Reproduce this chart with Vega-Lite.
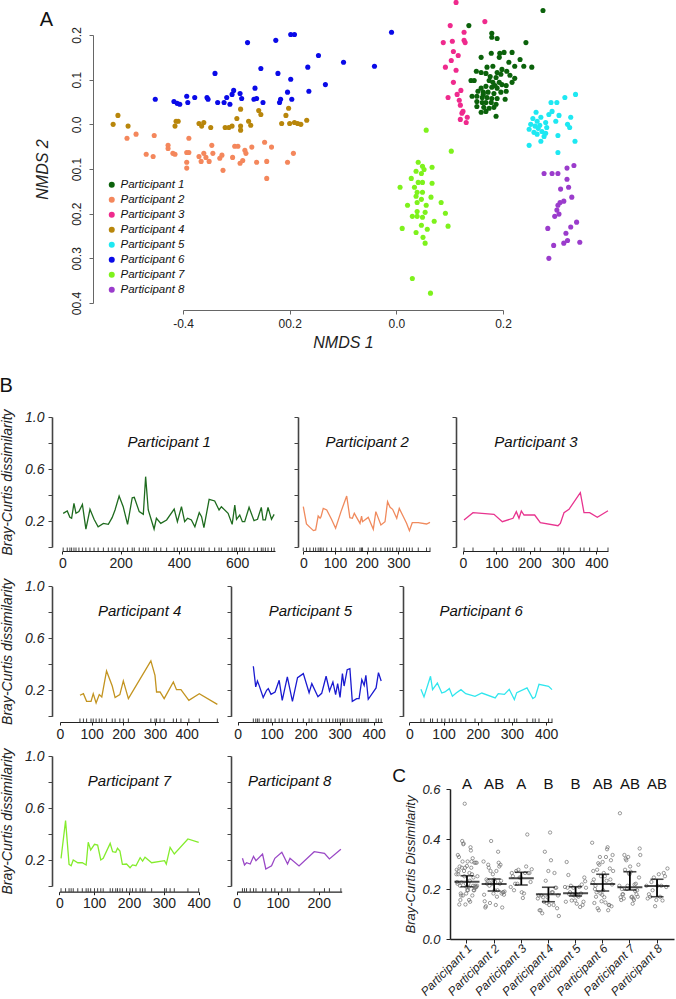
{
"$schema": "https://vega.github.io/schema/vega-lite/v6.json",
"width": 676, "height": 999, "autosize": {"type": "none"}, "padding": 0, "background": "white",
"config": {"font": "Liberation Sans", "view": {"stroke": null}, "axis": {"grid": false, "labelFlush": false, "labelOverlap": false, "labelBound": false, "titleFontWeight": "normal", "domainColor": "#333", "tickColor": "#333", "labelColor": "#222", "titleColor": "#222"}},
"datasets": {
"nmds": [
{"p":"Participant 6","x":-0.452,"y":0.056},{"p":"Participant 6","x":-0.417,"y":0.051},{"p":"Participant 6","x":-0.411,"y":0.047},{"p":"Participant 6","x":-0.406,"y":0.045},{"p":"Participant 6","x":-0.393,"y":0.063},{"p":"Participant 6","x":-0.391,"y":0.049},{"p":"Participant 6","x":-0.378,"y":0.06},{"p":"Participant 6","x":-0.355,"y":0.06},{"p":"Participant 6","x":-0.353,"y":0.056},{"p":"Participant 6","x":-0.34,"y":0.114},{"p":"Participant 6","x":-0.335,"y":0.049},{"p":"Participant 6","x":-0.323,"y":0.049},{"p":"Participant 6","x":-0.318,"y":0.06},{"p":"Participant 6","x":-0.308,"y":0.067},{"p":"Participant 6","x":-0.305,"y":0.076},{"p":"Participant 6","x":-0.312,"y":0.045},{"p":"Participant 6","x":-0.293,"y":0.069},{"p":"Participant 6","x":-0.29,"y":0.058},{"p":"Participant 6","x":-0.279,"y":0.183},{"p":"Participant 6","x":-0.267,"y":0.056},{"p":"Participant 6","x":-0.265,"y":0.081},{"p":"Participant 6","x":-0.262,"y":0.058},{"p":"Participant 6","x":-0.254,"y":0.125},{"p":"Participant 6","x":-0.25,"y":0.049},{"p":"Participant 6","x":-0.226,"y":0.188},{"p":"Participant 6","x":-0.222,"y":0.114},{"p":"Participant 6","x":-0.219,"y":0.049},{"p":"Participant 6","x":-0.217,"y":0.056},{"p":"Participant 6","x":-0.204,"y":0.072},{"p":"Participant 6","x":-0.198,"y":0.201},{"p":"Participant 6","x":-0.198,"y":0.101},{"p":"Participant 6","x":-0.191,"y":0.201},{"p":"Participant 6","x":-0.196,"y":0.056},{"p":"Participant 6","x":-0.166,"y":0.128},{"p":"Participant 6","x":-0.164,"y":0.074},{"p":"Participant 6","x":-0.146,"y":0.154},{"p":"Participant 6","x":-0.133,"y":0.089},{"p":"Participant 6","x":-0.009,"y":0.206},{"p":"Participant 6","x":-0.099,"y":0.139},{"p":"Participant 6","x":-0.041,"y":0.13},
{"p":"Participant 4","x":-0.531,"y":0.0},{"p":"Participant 4","x":-0.522,"y":0.02},{"p":"Participant 4","x":-0.503,"y":-0.004},{"p":"Participant 4","x":-0.413,"y":0.007},{"p":"Participant 4","x":-0.409,"y":0.007},{"p":"Participant 4","x":-0.415,"y":-0.004},{"p":"Participant 4","x":-0.37,"y":0.002},{"p":"Participant 4","x":-0.361,"y":0.004},{"p":"Participant 4","x":-0.365,"y":-0.004},{"p":"Participant 4","x":-0.348,"y":-0.007},{"p":"Participant 4","x":-0.321,"y":-0.007},{"p":"Participant 4","x":-0.314,"y":-0.007},{"p":"Participant 4","x":-0.308,"y":-0.004},{"p":"Participant 4","x":-0.299,"y":0.013},{"p":"Participant 4","x":-0.292,"y":0.034},{"p":"Participant 4","x":-0.292,"y":-0.004},{"p":"Participant 4","x":-0.277,"y":0.007},{"p":"Participant 4","x":-0.273,"y":-0.002},{"p":"Participant 4","x":-0.258,"y":0.031},{"p":"Participant 4","x":-0.254,"y":0.022},{"p":"Participant 4","x":-0.215,"y":0.002},{"p":"Participant 4","x":-0.207,"y":0.02},{"p":"Participant 4","x":-0.202,"y":0.036},{"p":"Participant 4","x":-0.2,"y":0.002},{"p":"Participant 4","x":-0.191,"y":0.004},{"p":"Participant 4","x":-0.185,"y":0.002},{"p":"Participant 4","x":-0.179,"y":0.0},{"p":"Participant 4","x":-0.168,"y":0.009},{"p":"Participant 4","x":-0.292,"y":-0.013},
{"p":"Participant 2","x":-0.505,"y":-0.031},{"p":"Participant 2","x":-0.488,"y":-0.022},{"p":"Participant 2","x":-0.454,"y":-0.025},{"p":"Participant 2","x":-0.469,"y":-0.067},{"p":"Participant 2","x":-0.456,"y":-0.072},{"p":"Participant 2","x":-0.428,"y":-0.047},{"p":"Participant 2","x":-0.428,"y":-0.054},{"p":"Participant 2","x":-0.419,"y":-0.065},{"p":"Participant 2","x":-0.415,"y":-0.067},{"p":"Participant 2","x":-0.393,"y":-0.063},{"p":"Participant 2","x":-0.389,"y":-0.063},{"p":"Participant 2","x":-0.389,"y":-0.031},{"p":"Participant 2","x":-0.393,"y":-0.085},{"p":"Participant 2","x":-0.393,"y":-0.098},{"p":"Participant 2","x":-0.37,"y":-0.072},{"p":"Participant 2","x":-0.366,"y":-0.083},{"p":"Participant 2","x":-0.361,"y":-0.065},{"p":"Participant 2","x":-0.357,"y":-0.074},{"p":"Participant 2","x":-0.351,"y":-0.083},{"p":"Participant 2","x":-0.346,"y":-0.047},{"p":"Participant 2","x":-0.344,"y":-0.065},{"p":"Participant 2","x":-0.331,"y":-0.076},{"p":"Participant 2","x":-0.327,"y":-0.069},{"p":"Participant 2","x":-0.325,"y":-0.103},{"p":"Participant 2","x":-0.307,"y":-0.074},{"p":"Participant 2","x":-0.303,"y":-0.049},{"p":"Participant 2","x":-0.297,"y":-0.049},{"p":"Participant 2","x":-0.293,"y":-0.087},{"p":"Participant 2","x":-0.288,"y":-0.081},{"p":"Participant 2","x":-0.284,"y":-0.058},{"p":"Participant 2","x":-0.282,"y":-0.065},{"p":"Participant 2","x":-0.271,"y":-0.051},{"p":"Participant 2","x":-0.262,"y":-0.085},{"p":"Participant 2","x":-0.247,"y":-0.04},{"p":"Participant 2","x":-0.234,"y":-0.051},{"p":"Participant 2","x":-0.243,"y":-0.083},{"p":"Participant 2","x":-0.243,"y":-0.121},{"p":"Participant 2","x":-0.204,"y":-0.085},{"p":"Participant 2","x":-0.193,"y":-0.065},
{"p":"Participant 3","x":0.112,"y":0.273},{"p":"Participant 3","x":0.166,"y":0.23},{"p":"Participant 3","x":0.101,"y":0.221},{"p":"Participant 3","x":0.127,"y":0.206},{"p":"Participant 3","x":0.088,"y":0.183},{"p":"Participant 3","x":0.105,"y":0.186},{"p":"Participant 3","x":0.127,"y":0.188},{"p":"Participant 3","x":0.129,"y":0.183},{"p":"Participant 3","x":0.107,"y":0.163},{"p":"Participant 3","x":0.116,"y":0.154},{"p":"Participant 3","x":0.103,"y":0.143},{"p":"Participant 3","x":0.092,"y":0.128},{"p":"Participant 3","x":0.112,"y":0.121},{"p":"Participant 3","x":0.107,"y":0.094},{"p":"Participant 3","x":0.121,"y":0.076},{"p":"Participant 3","x":0.114,"y":0.067},{"p":"Participant 3","x":0.097,"y":0.06},{"p":"Participant 3","x":0.118,"y":0.054},{"p":"Participant 3","x":0.12,"y":0.043},{"p":"Participant 3","x":0.125,"y":0.029},{"p":"Participant 3","x":0.123,"y":0.025},{"p":"Participant 3","x":0.133,"y":0.016},{"p":"Participant 3","x":0.12,"y":0.011},{"p":"Participant 3","x":0.131,"y":0.004},
{"p":"Participant 1","x":0.275,"y":0.255},{"p":"Participant 1","x":0.136,"y":0.221},{"p":"Participant 1","x":0.179,"y":0.204},{"p":"Participant 1","x":0.189,"y":0.192},{"p":"Participant 1","x":0.179,"y":0.195},{"p":"Participant 1","x":0.243,"y":0.183},{"p":"Participant 1","x":0.159,"y":0.15},{"p":"Participant 1","x":0.178,"y":0.159},{"p":"Participant 1","x":0.194,"y":0.159},{"p":"Participant 1","x":0.202,"y":0.161},{"p":"Participant 1","x":0.217,"y":0.161},{"p":"Participant 1","x":0.193,"y":0.15},{"p":"Participant 1","x":0.232,"y":0.145},{"p":"Participant 1","x":0.211,"y":0.139},{"p":"Participant 1","x":0.239,"y":0.13},{"p":"Participant 1","x":0.254,"y":0.128},{"p":"Participant 1","x":0.222,"y":0.13},{"p":"Participant 1","x":0.17,"y":0.128},{"p":"Participant 1","x":0.181,"y":0.13},{"p":"Participant 1","x":0.198,"y":0.123},{"p":"Participant 1","x":0.15,"y":0.119},{"p":"Participant 1","x":0.159,"y":0.116},{"p":"Participant 1","x":0.168,"y":0.114},{"p":"Participant 1","x":0.189,"y":0.116},{"p":"Participant 1","x":0.196,"y":0.112},{"p":"Participant 1","x":0.207,"y":0.119},{"p":"Participant 1","x":0.213,"y":0.11},{"p":"Participant 1","x":0.187,"y":0.105},{"p":"Participant 1","x":0.222,"y":0.103},{"p":"Participant 1","x":0.14,"y":0.098},{"p":"Participant 1","x":0.146,"y":0.098},{"p":"Participant 1","x":0.174,"y":0.098},{"p":"Participant 1","x":0.181,"y":0.094},{"p":"Participant 1","x":0.193,"y":0.094},{"p":"Participant 1","x":0.198,"y":0.089},{"p":"Participant 1","x":0.217,"y":0.094},{"p":"Participant 1","x":0.159,"y":0.081},{"p":"Participant 1","x":0.168,"y":0.085},{"p":"Participant 1","x":0.179,"y":0.083},{"p":"Participant 1","x":0.189,"y":0.081},{"p":"Participant 1","x":0.153,"y":0.074},{"p":"Participant 1","x":0.163,"y":0.072},{"p":"Participant 1","x":0.172,"y":0.072},{"p":"Participant 1","x":0.183,"y":0.069},{"p":"Participant 1","x":0.196,"y":0.072},{"p":"Participant 1","x":0.206,"y":0.074},{"p":"Participant 1","x":0.142,"y":0.063},{"p":"Participant 1","x":0.151,"y":0.063},{"p":"Participant 1","x":0.161,"y":0.06},{"p":"Participant 1","x":0.17,"y":0.06},{"p":"Participant 1","x":0.179,"y":0.058},{"p":"Participant 1","x":0.189,"y":0.058},{"p":"Participant 1","x":0.204,"y":0.056},{"p":"Participant 1","x":0.151,"y":0.051},{"p":"Participant 1","x":0.161,"y":0.049},{"p":"Participant 1","x":0.168,"y":0.049},{"p":"Participant 1","x":0.178,"y":0.049},{"p":"Participant 1","x":0.187,"y":0.045},{"p":"Participant 1","x":0.151,"y":0.04},{"p":"Participant 1","x":0.164,"y":0.038},{"p":"Participant 1","x":0.174,"y":0.036},{"p":"Participant 1","x":0.183,"y":0.038},{"p":"Participant 1","x":0.159,"y":0.027},{"p":"Participant 1","x":0.168,"y":0.029},{"p":"Participant 1","x":0.187,"y":0.018},{"p":"Participant 1","x":0.163,"y":0.067},{"p":"Participant 1","x":0.185,"y":0.087},{"p":"Participant 1","x":0.176,"y":0.107},{"p":"Participant 1","x":0.206,"y":0.087},
{"p":"Participant 5","x":0.336,"y":0.067},{"p":"Participant 5","x":0.316,"y":0.06},{"p":"Participant 5","x":0.29,"y":0.049},{"p":"Participant 5","x":0.301,"y":0.049},{"p":"Participant 5","x":0.262,"y":0.027},{"p":"Participant 5","x":0.286,"y":0.022},{"p":"Participant 5","x":0.305,"y":0.02},{"p":"Participant 5","x":0.292,"y":0.029},{"p":"Participant 5","x":0.327,"y":0.016},{"p":"Participant 5","x":0.271,"y":0.016},{"p":"Participant 5","x":0.256,"y":0.013},{"p":"Participant 5","x":0.264,"y":0.007},{"p":"Participant 5","x":0.28,"y":0.004},{"p":"Participant 5","x":0.299,"y":0.007},{"p":"Participant 5","x":0.252,"y":0.0},{"p":"Participant 5","x":0.26,"y":-0.004},{"p":"Participant 5","x":0.269,"y":-0.002},{"p":"Participant 5","x":0.321,"y":0.0},{"p":"Participant 5","x":0.325,"y":-0.007},{"p":"Participant 5","x":0.249,"y":-0.011},{"p":"Participant 5","x":0.258,"y":-0.018},{"p":"Participant 5","x":0.273,"y":-0.016},{"p":"Participant 5","x":0.28,"y":-0.02},{"p":"Participant 5","x":0.264,"y":-0.022},{"p":"Participant 5","x":0.303,"y":-0.025},{"p":"Participant 5","x":0.277,"y":-0.027},{"p":"Participant 5","x":0.271,"y":-0.038},{"p":"Participant 5","x":0.335,"y":-0.038},{"p":"Participant 5","x":0.249,"y":-0.047},{"p":"Participant 5","x":0.303,"y":-0.063},{"p":"Participant 5","x":0.266,"y":-0.009},{"p":"Participant 5","x":0.282,"y":-0.007},
{"p":"Participant 7","x":0.056,"y":-0.013},{"p":"Participant 7","x":0.103,"y":-0.06},{"p":"Participant 7","x":0.041,"y":-0.085},{"p":"Participant 7","x":0.049,"y":-0.094},{"p":"Participant 7","x":0.067,"y":-0.096},{"p":"Participant 7","x":0.037,"y":-0.105},{"p":"Participant 7","x":0.052,"y":-0.101},{"p":"Participant 7","x":0.047,"y":-0.11},{"p":"Participant 7","x":0.028,"y":-0.121},{"p":"Participant 7","x":0.041,"y":-0.13},{"p":"Participant 7","x":0.049,"y":-0.13},{"p":"Participant 7","x":0.067,"y":-0.132},{"p":"Participant 7","x":0.007,"y":-0.141},{"p":"Participant 7","x":0.034,"y":-0.141},{"p":"Participant 7","x":0.039,"y":-0.152},{"p":"Participant 7","x":0.049,"y":-0.152},{"p":"Participant 7","x":0.037,"y":-0.161},{"p":"Participant 7","x":0.065,"y":-0.163},{"p":"Participant 7","x":0.047,"y":-0.168},{"p":"Participant 7","x":0.039,"y":-0.175},{"p":"Participant 7","x":0.084,"y":-0.175},{"p":"Participant 7","x":0.021,"y":-0.181},{"p":"Participant 7","x":0.056,"y":-0.181},{"p":"Participant 7","x":0.039,"y":-0.195},{"p":"Participant 7","x":0.054,"y":-0.197},{"p":"Participant 7","x":0.092,"y":-0.199},{"p":"Participant 7","x":0.03,"y":-0.206},{"p":"Participant 7","x":0.039,"y":-0.206},{"p":"Participant 7","x":0.049,"y":-0.208},{"p":"Participant 7","x":0.071,"y":-0.217},{"p":"Participant 7","x":0.047,"y":-0.226},{"p":"Participant 7","x":0.097,"y":-0.228},{"p":"Participant 7","x":0.011,"y":-0.233},{"p":"Participant 7","x":0.058,"y":-0.235},{"p":"Participant 7","x":0.037,"y":-0.242},{"p":"Participant 7","x":0.05,"y":-0.253},{"p":"Participant 7","x":0.054,"y":-0.266},{"p":"Participant 7","x":0.03,"y":-0.345},{"p":"Participant 7","x":0.064,"y":-0.378},
{"p":"Participant 8","x":0.333,"y":-0.092},{"p":"Participant 8","x":0.32,"y":-0.098},{"p":"Participant 8","x":0.277,"y":-0.11},{"p":"Participant 8","x":0.292,"y":-0.11},{"p":"Participant 8","x":0.303,"y":-0.11},{"p":"Participant 8","x":0.32,"y":-0.123},{"p":"Participant 8","x":0.323,"y":-0.141},{"p":"Participant 8","x":0.308,"y":-0.145},{"p":"Participant 8","x":0.329,"y":-0.163},{"p":"Participant 8","x":0.314,"y":-0.172},{"p":"Participant 8","x":0.307,"y":-0.175},{"p":"Participant 8","x":0.303,"y":-0.181},{"p":"Participant 8","x":0.301,"y":-0.192},{"p":"Participant 8","x":0.305,"y":-0.201},{"p":"Participant 8","x":0.297,"y":-0.206},{"p":"Participant 8","x":0.338,"y":-0.219},{"p":"Participant 8","x":0.284,"y":-0.233},{"p":"Participant 8","x":0.327,"y":-0.23},{"p":"Participant 8","x":0.318,"y":-0.244},{"p":"Participant 8","x":0.321,"y":-0.26},{"p":"Participant 8","x":0.314,"y":-0.266},{"p":"Participant 8","x":0.344,"y":-0.264},{"p":"Participant 8","x":0.295,"y":-0.271},{"p":"Participant 8","x":0.286,"y":-0.3}
],
"bc": [
{"p":"Participant 1","d":3,"v":0.259},{"p":"Participant 1","d":17,"v":0.277},{"p":"Participant 1","d":26,"v":0.228},{"p":"Participant 1","d":32,"v":0.221},{"p":"Participant 1","d":40,"v":0.336},{"p":"Participant 1","d":47,"v":0.259},{"p":"Participant 1","d":57,"v":0.272},{"p":"Participant 1","d":69,"v":0.328},{"p":"Participant 1","d":81,"v":0.138},{"p":"Participant 1","d":95,"v":0.29},{"p":"Participant 1","d":109,"v":0.213},{"p":"Participant 1","d":123,"v":0.156},{"p":"Participant 1","d":141,"v":0.182},{"p":"Participant 1","d":158,"v":0.174},{"p":"Participant 1","d":171,"v":0.226},{"p":"Participant 1","d":181,"v":0.285},{"p":"Participant 1","d":195,"v":0.392},{"p":"Participant 1","d":209,"v":0.31},{"p":"Participant 1","d":224,"v":0.174},{"p":"Participant 1","d":240,"v":0.379},{"p":"Participant 1","d":247,"v":0.382},{"p":"Participant 1","d":264,"v":0.272},{"p":"Participant 1","d":278,"v":0.251},{"p":"Participant 1","d":286,"v":0.541},{"p":"Participant 1","d":295,"v":0.285},{"p":"Participant 1","d":315,"v":0.138},{"p":"Participant 1","d":323,"v":0.221},{"p":"Participant 1","d":338,"v":0.182},{"p":"Participant 1","d":358,"v":0.208},{"p":"Participant 1","d":384,"v":0.292},{"p":"Participant 1","d":395,"v":0.195},{"p":"Participant 1","d":409,"v":0.31},{"p":"Participant 1","d":420,"v":0.195},{"p":"Participant 1","d":430,"v":0.221},{"p":"Participant 1","d":443,"v":0.208},{"p":"Participant 1","d":455,"v":0.156},{"p":"Participant 1","d":470,"v":0.264},{"p":"Participant 1","d":478,"v":0.233},{"p":"Participant 1","d":486,"v":0.149},{"p":"Participant 1","d":504,"v":0.367},{"p":"Participant 1","d":523,"v":0.354},{"p":"Participant 1","d":538,"v":0.285},{"p":"Participant 1","d":546,"v":0.31},{"p":"Participant 1","d":569,"v":0.259},{"p":"Participant 1","d":583,"v":0.174},{"p":"Participant 1","d":592,"v":0.323},{"p":"Participant 1","d":598,"v":0.213},{"p":"Participant 1","d":609,"v":0.246},{"p":"Participant 1","d":618,"v":0.195},{"p":"Participant 1","d":626,"v":0.195},{"p":"Participant 1","d":641,"v":0.305},{"p":"Participant 1","d":658,"v":0.203},{"p":"Participant 1","d":670,"v":0.213},{"p":"Participant 1","d":683,"v":0.305},{"p":"Participant 1","d":689,"v":0.208},{"p":"Participant 1","d":697,"v":0.208},{"p":"Participant 1","d":706,"v":0.305},{"p":"Participant 1","d":718,"v":0.213},{"p":"Participant 1","d":727,"v":0.251},
{"p":"Participant 2","d":0,"v":0.31},{"p":"Participant 2","d":10,"v":0.177},{"p":"Participant 2","d":21,"v":0.151},{"p":"Participant 2","d":32,"v":0.126},{"p":"Participant 2","d":39,"v":0.131},{"p":"Participant 2","d":47,"v":0.238},{"p":"Participant 2","d":53,"v":0.221},{"p":"Participant 2","d":56,"v":0.233},{"p":"Participant 2","d":63,"v":0.297},{"p":"Participant 2","d":74,"v":0.285},{"p":"Participant 2","d":89,"v":0.213},{"p":"Participant 2","d":102,"v":0.144},{"p":"Participant 2","d":119,"v":0.272},{"p":"Participant 2","d":137,"v":0.392},{"p":"Participant 2","d":147,"v":0.226},{"p":"Participant 2","d":155,"v":0.221},{"p":"Participant 2","d":161,"v":0.259},{"p":"Participant 2","d":179,"v":0.182},{"p":"Participant 2","d":184,"v":0.238},{"p":"Participant 2","d":187,"v":0.195},{"p":"Participant 2","d":205,"v":0.228},{"p":"Participant 2","d":221,"v":0.136},{"p":"Participant 2","d":229,"v":0.272},{"p":"Participant 2","d":245,"v":0.169},{"p":"Participant 2","d":258,"v":0.195},{"p":"Participant 2","d":266,"v":0.349},{"p":"Participant 2","d":274,"v":0.305},{"p":"Participant 2","d":282,"v":0.29},{"p":"Participant 2","d":295,"v":0.221},{"p":"Participant 2","d":303,"v":0.297},{"p":"Participant 2","d":316,"v":0.233},{"p":"Participant 2","d":326,"v":0.182},{"p":"Participant 2","d":335,"v":0.126},{"p":"Participant 2","d":344,"v":0.187},{"p":"Participant 2","d":363,"v":0.187},{"p":"Participant 2","d":389,"v":0.177},{"p":"Participant 2","d":400,"v":0.19},
{"p":"Participant 3","d":3,"v":0.208},{"p":"Participant 3","d":30,"v":0.264},{"p":"Participant 3","d":93,"v":0.251},{"p":"Participant 3","d":118,"v":0.195},{"p":"Participant 3","d":150,"v":0.221},{"p":"Participant 3","d":160,"v":0.272},{"p":"Participant 3","d":168,"v":0.221},{"p":"Participant 3","d":175,"v":0.277},{"p":"Participant 3","d":183,"v":0.246},{"p":"Participant 3","d":215,"v":0.246},{"p":"Participant 3","d":232,"v":0.187},{"p":"Participant 3","d":285,"v":0.164},{"p":"Participant 3","d":292,"v":0.182},{"p":"Participant 3","d":303,"v":0.264},{"p":"Participant 3","d":318,"v":0.29},{"p":"Participant 3","d":352,"v":0.418},{"p":"Participant 3","d":363,"v":0.264},{"p":"Participant 3","d":380,"v":0.264},{"p":"Participant 3","d":403,"v":0.228},{"p":"Participant 3","d":435,"v":0.279},
{"p":"Participant 4","d":63,"v":0.162},{"p":"Participant 4","d":74,"v":0.174},{"p":"Participant 4","d":84,"v":0.115},{"p":"Participant 4","d":98,"v":0.115},{"p":"Participant 4","d":105,"v":0.174},{"p":"Participant 4","d":114,"v":0.103},{"p":"Participant 4","d":124,"v":0.167},{"p":"Participant 4","d":132,"v":0.149},{"p":"Participant 4","d":147,"v":0.349},{"p":"Participant 4","d":165,"v":0.233},{"p":"Participant 4","d":174,"v":0.144},{"p":"Participant 4","d":189,"v":0.167},{"p":"Participant 4","d":200,"v":0.272},{"p":"Participant 4","d":216,"v":0.136},{"p":"Participant 4","d":287,"v":0.426},{"p":"Participant 4","d":300,"v":0.315},{"p":"Participant 4","d":305,"v":0.187},{"p":"Participant 4","d":316,"v":0.187},{"p":"Participant 4","d":329,"v":0.136},{"p":"Participant 4","d":358,"v":0.264},{"p":"Participant 4","d":368,"v":0.205},{"p":"Participant 4","d":382,"v":0.205},{"p":"Participant 4","d":407,"v":0.123},{"p":"Participant 4","d":440,"v":0.174},{"p":"Participant 4","d":497,"v":0.092},
{"p":"Participant 6","d":46,"v":0.385},{"p":"Participant 6","d":53,"v":0.226},{"p":"Participant 6","d":58,"v":0.272},{"p":"Participant 6","d":63,"v":0.238},{"p":"Participant 6","d":75,"v":0.144},{"p":"Participant 6","d":85,"v":0.2},{"p":"Participant 6","d":90,"v":0.213},{"p":"Participant 6","d":98,"v":0.169},{"p":"Participant 6","d":110,"v":0.187},{"p":"Participant 6","d":122,"v":0.277},{"p":"Participant 6","d":131,"v":0.123},{"p":"Participant 6","d":146,"v":0.303},{"p":"Participant 6","d":161,"v":0.115},{"p":"Participant 6","d":176,"v":0.297},{"p":"Participant 6","d":193,"v":0.328},{"p":"Participant 6","d":210,"v":0.182},{"p":"Participant 6","d":218,"v":0.251},{"p":"Participant 6","d":236,"v":0.151},{"p":"Participant 6","d":247,"v":0.177},{"p":"Participant 6","d":260,"v":0.308},{"p":"Participant 6","d":270,"v":0.195},{"p":"Participant 6","d":280,"v":0.264},{"p":"Participant 6","d":288,"v":0.167},{"p":"Participant 6","d":294,"v":0.251},{"p":"Participant 6","d":301,"v":0.146},{"p":"Participant 6","d":308,"v":0.328},{"p":"Participant 6","d":313,"v":0.233},{"p":"Participant 6","d":322,"v":0.359},{"p":"Participant 6","d":330,"v":0.367},{"p":"Participant 6","d":337,"v":0.115},{"p":"Participant 6","d":350,"v":0.136},{"p":"Participant 6","d":357,"v":0.136},{"p":"Participant 6","d":365,"v":0.282},{"p":"Participant 6","d":372,"v":0.238},{"p":"Participant 6","d":377,"v":0.315},{"p":"Participant 6","d":384,"v":0.131},{"p":"Participant 6","d":407,"v":0.218},{"p":"Participant 6","d":414,"v":0.336},{"p":"Participant 6","d":422,"v":0.272},
{"p":"Participant 5","d":34,"v":0.208},{"p":"Participant 5","d":43,"v":0.149},{"p":"Participant 5","d":62,"v":0.308},{"p":"Participant 5","d":68,"v":0.205},{"p":"Participant 5","d":82,"v":0.256},{"p":"Participant 5","d":95,"v":0.179},{"p":"Participant 5","d":104,"v":0.187},{"p":"Participant 5","d":117,"v":0.213},{"p":"Participant 5","d":126,"v":0.154},{"p":"Participant 5","d":137,"v":0.179},{"p":"Participant 5","d":151,"v":0.205},{"p":"Participant 5","d":165,"v":0.174},{"p":"Participant 5","d":192,"v":0.154},{"p":"Participant 5","d":212,"v":0.179},{"p":"Participant 5","d":251,"v":0.141},{"p":"Participant 5","d":260,"v":0.174},{"p":"Participant 5","d":278,"v":0.169},{"p":"Participant 5","d":292,"v":0.208},{"p":"Participant 5","d":307,"v":0.128},{"p":"Participant 5","d":314,"v":0.182},{"p":"Participant 5","d":344,"v":0.218},{"p":"Participant 5","d":361,"v":0.136},{"p":"Participant 5","d":368,"v":0.149},{"p":"Participant 5","d":379,"v":0.246},{"p":"Participant 5","d":407,"v":0.231},{"p":"Participant 5","d":417,"v":0.205},
{"p":"Participant 7","d":5,"v":0.213},{"p":"Participant 7","d":18,"v":0.503},{"p":"Participant 7","d":28,"v":0.167},{"p":"Participant 7","d":34,"v":0.156},{"p":"Participant 7","d":40,"v":0.2},{"p":"Participant 7","d":53,"v":0.179},{"p":"Participant 7","d":66,"v":0.179},{"p":"Participant 7","d":77,"v":0.162},{"p":"Participant 7","d":83,"v":0.336},{"p":"Participant 7","d":90,"v":0.277},{"p":"Participant 7","d":101,"v":0.321},{"p":"Participant 7","d":110,"v":0.315},{"p":"Participant 7","d":119,"v":0.2},{"p":"Participant 7","d":126,"v":0.213},{"p":"Participant 7","d":146,"v":0.328},{"p":"Participant 7","d":153,"v":0.264},{"p":"Participant 7","d":162,"v":0.259},{"p":"Participant 7","d":167,"v":0.29},{"p":"Participant 7","d":174,"v":0.269},{"p":"Participant 7","d":181,"v":0.167},{"p":"Participant 7","d":193,"v":0.169},{"p":"Participant 7","d":203,"v":0.141},{"p":"Participant 7","d":210,"v":0.162},{"p":"Participant 7","d":220,"v":0.156},{"p":"Participant 7","d":232,"v":0.218},{"p":"Participant 7","d":239,"v":0.192},{"p":"Participant 7","d":246,"v":0.221},{"p":"Participant 7","d":265,"v":0.179},{"p":"Participant 7","d":302,"v":0.195},{"p":"Participant 7","d":307,"v":0.169},{"p":"Participant 7","d":318,"v":0.297},{"p":"Participant 7","d":330,"v":0.246},{"p":"Participant 7","d":369,"v":0.362},{"p":"Participant 7","d":400,"v":0.336},
{"p":"Participant 8","d":14,"v":0.213},{"p":"Participant 8","d":19,"v":0.162},{"p":"Participant 8","d":24,"v":0.179},{"p":"Participant 8","d":33,"v":0.169},{"p":"Participant 8","d":41,"v":0.228},{"p":"Participant 8","d":47,"v":0.195},{"p":"Participant 8","d":63,"v":0.246},{"p":"Participant 8","d":71,"v":0.131},{"p":"Participant 8","d":85,"v":0.156},{"p":"Participant 8","d":93,"v":0.213},{"p":"Participant 8","d":110,"v":0.259},{"p":"Participant 8","d":124,"v":0.169},{"p":"Participant 8","d":130,"v":0.213},{"p":"Participant 8","d":152,"v":0.154},{"p":"Participant 8","d":189,"v":0.264},{"p":"Participant 8","d":214,"v":0.251},{"p":"Participant 8","d":226,"v":0.208},{"p":"Participant 8","d":254,"v":0.282}
],
"stats": [
{"p":"Participant 1","m":0.229,"lo":0.209,"hi":0.253,"g":"A"},
{"p":"Participant 2","m":0.22,"lo":0.192,"hi":0.24,"g":"AB"},
{"p":"Participant 3","m":0.243,"lo":0.216,"hi":0.267,"g":"A"},
{"p":"Participant 4","m":0.179,"lo":0.149,"hi":0.207,"g":"B"},
{"p":"Participant 5","m":0.183,"lo":0.172,"hi":0.209,"g":"B"},
{"p":"Participant 6","m":0.22,"lo":0.192,"hi":0.259,"g":"AB"},
{"p":"Participant 7","m":0.207,"lo":0.196,"hi":0.269,"g":"AB"},
{"p":"Participant 8","m":0.212,"lo":0.169,"hi":0.239,"g":"AB"}
],
"labels": [{"t": "A"}, {"t": "B"}, {"t": "C"}]
},
"resolve": {"scale": {"x": "independent", "y": "independent"}},
"layer": [
 {"data": {"name": "nmds"}, "mark": {"type": "circle", "size": 26, "opacity": 1},
  "encoding": {
   "x": {"field": "x", "type": "quantitative", "scale": {"domain": [-0.4, 0.2], "range": [183, 503], "nice": false, "zero": false},
         "axis": {"orient": "bottom", "offset": -689, "values": [-0.4, -0.2, 0, 0.2], "labelExpr": "datum.value < -0.3 ? '-0.4' : datum.value < -0.001 ? '00.2' : format(datum.value, '.1f')", "labelFontSize": 12, "labelPadding": 4, "tickSize": 4, "domainColor": "#666", "tickColor": "#666", "title": "NMDS 1", "titleFontSize": 16, "titleFontStyle": "italic", "titlePadding": 5}},
   "y": {"field": "y", "type": "quantitative", "scale": {"domain": [-0.4, 0.2], "range": [303, 35], "nice": false, "zero": false},
         "axis": {"orient": "left", "offset": -93, "values": [-0.4, -0.3, -0.2, -0.1, 0, 0.1, 0.2], "labelExpr": "datum.value < -0.001 ? '0' + format(-datum.value, '.1f') : format(datum.value, '.1f')", "labelAngle": -90, "labelAlign": "center", "labelBaseline": "bottom", "labelFontSize": 12, "labelPadding": 6, "tickSize": 4, "domainColor": "#666", "tickColor": "#666", "title": "NMDS 2", "titleFontSize": 16, "titleFontStyle": "italic", "titlePadding": 20}},
   "color": {"field": "p", "type": "nominal",
     "scale": {"domain": ["Participant 1", "Participant 2", "Participant 3", "Participant 4", "Participant 5", "Participant 6", "Participant 7", "Participant 8"], "range": ["#0b620b", "#f4875c", "#ef2a8d", "#b8860b", "#1ee8f2", "#0a0ae8", "#7ef21c", "#9b3ccc"]},
     "legend": {"orient": "none", "legendX": 106, "legendY": 179, "title": null, "labelFontSize": 11.5, "labelFontStyle": "italic", "labelColor": "#111", "symbolType": "circle", "symbolSize": 36, "symbolStrokeWidth": 0, "rowPadding": 2, "labelOffset": 3, "padding": 0}}
  }},
 {"data": {"name": "labels"}, "transform": [{"filter": "datum.t == 'A'"}], "mark": {"type": "text", "fontSize": 20, "align": "center", "baseline": "middle", "color": "#111"},
  "encoding": {"text": {"field": "t"},
   "x": {"datum": -0.656, "scale": {"domain": [-0.4, 0.2], "range": [183, 503], "nice": false, "zero": false}, "axis": null},
   "y": {"datum": 0.233, "scale": {"domain": [-0.4, 0.2], "range": [303, 35], "nice": false, "zero": false}, "axis": null}}},
 {"data": {"name": "bc"}, "transform": [{"filter": "datum.p == 'Participant 1'"}], "mark": {"type": "line", "color": "#1e6b1e", "strokeWidth": 1.3},
  "encoding": {
   "x": {"field": "d", "type": "quantitative", "scale": {"domain": [0, 730], "range": [62.3, 275], "nice": false, "zero": false},
         "axis": {"orient": "bottom", "offset": -448, "values": [0, 200, 400, 600], "labelFontSize": 14, "labelPadding": 2, "tickSize": 3, "domainWidth": 1.2, "domainColor": "#222", "tickColor": "#222", "title": "Participant 1", "titleY": -110, "titleBaseline": "middle", "titleFontSize": 15, "titleFontStyle": "italic", "titleColor": "#111"}},
   "y": {"field": "v", "type": "quantitative", "scale": {"domain": [0, 1], "range": [547, 417], "nice": false},
         "axis": {"orient": "left", "offset": -52, "values": [0, 0.2, 0.4, 0.6, 0.8, 1], "labelExpr": "(abs(datum.value-1)<0.01 || abs(datum.value-0.6)<0.01 || abs(datum.value-0.2)<0.01) ? format(datum.value, '.1f') : ''", "labelFontSize": 14, "labelFontStyle": "italic", "labelPadding": 4, "tickSize": 4, "domainWidth": 1.6, "domainColor": "#444", "tickColor": "#444", "title": "Bray-Curtis dissimilarity", "titleFontSize": 14, "titleFontStyle": "italic", "titlePadding": 10}}
  }},
 {"data": {"name": "bc"}, "transform": [{"filter": "datum.p == 'Participant 1'"}], "mark": {"type": "rule", "color": "#111", "strokeWidth": 0.8},
  "encoding": {
   "x": {"field": "d", "type": "quantitative", "scale": {"domain": [0, 730], "range": [62.3, 275], "nice": false, "zero": false}, "axis": null},
   "y": {"datum": -0.031, "scale": {"domain": [0, 1], "range": [547, 417], "nice": false}, "axis": null},
   "y2": {"datum": -0.004}}},
 {"data": {"name": "labels"}, "transform": [{"filter": "datum.t == 'B'"}], "mark": {"type": "text", "fontSize": 20, "align": "center", "baseline": "middle", "color": "#111"},
  "encoding": {"text": {"field": "t"},
   "x": {"datum": -193, "scale": {"domain": [0, 730], "range": [62.3, 275], "nice": false, "zero": false}, "axis": null},
   "y": {"datum": 1.238, "scale": {"domain": [0, 1], "range": [547, 417], "nice": false}, "axis": null}}},
 {"data": {"name": "bc"}, "transform": [{"filter": "datum.p == 'Participant 2'"}], "mark": {"type": "line", "color": "#f08a5d", "strokeWidth": 1.3},
  "encoding": {
   "x": {"field": "d", "type": "quantitative", "scale": {"domain": [0, 400], "range": [303.3, 430], "nice": false, "zero": false},
         "axis": {"orient": "bottom", "offset": -448, "values": [0, 100, 200, 300], "labelFontSize": 14, "labelPadding": 2, "tickSize": 3, "domainWidth": 1.2, "domainColor": "#222", "tickColor": "#222", "title": "Participant 2", "titleY": -110, "titleBaseline": "middle", "titleFontSize": 15, "titleFontStyle": "italic", "titleColor": "#111"}},
   "y": {"field": "v", "type": "quantitative", "scale": {"domain": [0, 1], "range": [547, 417], "nice": false},
         "axis": {"orient": "left", "offset": -298, "values": [0, 0.2, 0.4, 0.6, 0.8, 1], "labels": false, "tickSize": 4, "domainWidth": 1.6, "domainColor": "#444", "tickColor": "#444", "title": null}}
  }},
 {"data": {"name": "bc"}, "transform": [{"filter": "datum.p == 'Participant 2'"}], "mark": {"type": "rule", "color": "#111", "strokeWidth": 0.8},
  "encoding": {
   "x": {"field": "d", "type": "quantitative", "scale": {"domain": [0, 400], "range": [303.3, 430], "nice": false, "zero": false}, "axis": null},
   "y": {"datum": -0.031, "scale": {"domain": [0, 1], "range": [547, 417], "nice": false}, "axis": null},
   "y2": {"datum": -0.004}}},
 {"data": {"name": "bc"}, "transform": [{"filter": "datum.p == 'Participant 3'"}], "mark": {"type": "line", "color": "#e8348f", "strokeWidth": 1.3},
  "encoding": {
   "x": {"field": "d", "type": "quantitative", "scale": {"domain": [0, 435], "range": [463, 608], "nice": false, "zero": false},
         "axis": {"orient": "bottom", "offset": -448, "values": [0, 100, 200, 300, 400], "labelFontSize": 14, "labelPadding": 2, "tickSize": 3, "domainWidth": 1.2, "domainColor": "#222", "tickColor": "#222", "title": "Participant 3", "titleY": -110, "titleBaseline": "middle", "titleFontSize": 15, "titleFontStyle": "italic", "titleColor": "#111"}},
   "y": {"field": "v", "type": "quantitative", "scale": {"domain": [0, 1], "range": [547, 417], "nice": false},
         "axis": {"orient": "left", "offset": -456, "values": [0, 0.2, 0.4, 0.6, 0.8, 1], "labels": false, "tickSize": 4, "domainWidth": 1.6, "domainColor": "#444", "tickColor": "#444", "title": null}}
  }},
 {"data": {"name": "bc"}, "transform": [{"filter": "datum.p == 'Participant 3'"}], "mark": {"type": "rule", "color": "#111", "strokeWidth": 0.8},
  "encoding": {
   "x": {"field": "d", "type": "quantitative", "scale": {"domain": [0, 435], "range": [463, 608], "nice": false, "zero": false}, "axis": null},
   "y": {"datum": -0.031, "scale": {"domain": [0, 1], "range": [547, 417], "nice": false}, "axis": null},
   "y2": {"datum": -0.004}}},
 {"data": {"name": "bc"}, "transform": [{"filter": "datum.p == 'Participant 4'"}], "mark": {"type": "line", "color": "#c39420", "strokeWidth": 1.3},
  "encoding": {
   "x": {"field": "d", "type": "quantitative", "scale": {"domain": [0, 500], "range": [60, 218.3], "nice": false, "zero": false},
         "axis": {"orient": "bottom", "offset": -277, "values": [0, 100, 200, 300, 400], "labelFontSize": 14, "labelPadding": 2, "tickSize": 3, "domainWidth": 1.2, "domainColor": "#222", "tickColor": "#222", "title": "Participant 4", "titleY": -112, "titleBaseline": "middle", "titleFontSize": 15, "titleFontStyle": "italic", "titleColor": "#111"}},
   "y": {"field": "v", "type": "quantitative", "scale": {"domain": [0, 1], "range": [716.3, 586.3], "nice": false},
         "axis": {"orient": "left", "offset": -52, "values": [0, 0.2, 0.4, 0.6, 0.8, 1], "labelExpr": "(abs(datum.value-1)<0.01 || abs(datum.value-0.6)<0.01 || abs(datum.value-0.2)<0.01) ? format(datum.value, '.1f') : ''", "labelFontSize": 14, "labelFontStyle": "italic", "labelPadding": 4, "tickSize": 4, "domainWidth": 1.6, "domainColor": "#444", "tickColor": "#444", "title": "Bray-Curtis dissimilarity", "titleFontSize": 14, "titleFontStyle": "italic", "titlePadding": 10}}
  }},
 {"data": {"name": "bc"}, "transform": [{"filter": "datum.p == 'Participant 4'"}], "mark": {"type": "rule", "color": "#111", "strokeWidth": 0.8},
  "encoding": {
   "x": {"field": "d", "type": "quantitative", "scale": {"domain": [0, 500], "range": [60, 218.3], "nice": false, "zero": false}, "axis": null},
   "y": {"datum": -0.044, "scale": {"domain": [0, 1], "range": [716.3, 586.3], "nice": false}, "axis": null},
   "y2": {"datum": -0.017}}},
 {"data": {"name": "bc"}, "transform": [{"filter": "datum.p == 'Participant 6'"}], "mark": {"type": "line", "color": "#1a1ad0", "strokeWidth": 1.3},
  "encoding": {
   "x": {"field": "d", "type": "quantitative", "scale": {"domain": [0, 425], "range": [237.7, 382.2], "nice": false, "zero": false},
         "axis": {"orient": "bottom", "offset": -277, "values": [0, 100, 200, 300, 400], "labelFontSize": 14, "labelPadding": 2, "tickSize": 3, "domainWidth": 1.2, "domainColor": "#222", "tickColor": "#222", "title": "Participant 5", "titleY": -112, "titleBaseline": "middle", "titleFontSize": 15, "titleFontStyle": "italic", "titleColor": "#111"}},
   "y": {"field": "v", "type": "quantitative", "scale": {"domain": [0, 1], "range": [716.3, 586.3], "nice": false},
         "axis": {"orient": "left", "offset": -231, "values": [0, 0.2, 0.4, 0.6, 0.8, 1], "labels": false, "tickSize": 4, "domainWidth": 1.6, "domainColor": "#444", "tickColor": "#444", "title": null}}
  }},
 {"data": {"name": "bc"}, "transform": [{"filter": "datum.p == 'Participant 6'"}], "mark": {"type": "rule", "color": "#111", "strokeWidth": 0.8},
  "encoding": {
   "x": {"field": "d", "type": "quantitative", "scale": {"domain": [0, 425], "range": [237.7, 382.2], "nice": false, "zero": false}, "axis": null},
   "y": {"datum": -0.044, "scale": {"domain": [0, 1], "range": [716.3, 586.3], "nice": false}, "axis": null},
   "y2": {"datum": -0.017}}},
 {"data": {"name": "bc"}, "transform": [{"filter": "datum.p == 'Participant 5'"}], "mark": {"type": "line", "color": "#30e6ee", "strokeWidth": 1.3},
  "encoding": {
   "x": {"field": "d", "type": "quantitative", "scale": {"domain": [0, 417], "range": [409.3, 552], "nice": false, "zero": false},
         "axis": {"orient": "bottom", "offset": -277, "values": [0, 100, 200, 300, 400], "labelFontSize": 14, "labelPadding": 2, "tickSize": 3, "domainWidth": 1.2, "domainColor": "#222", "tickColor": "#222", "title": "Participant 6", "titleY": -112, "titleBaseline": "middle", "titleFontSize": 15, "titleFontStyle": "italic", "titleColor": "#111"}},
   "y": {"field": "v", "type": "quantitative", "scale": {"domain": [0, 1], "range": [716.3, 586.3], "nice": false},
         "axis": {"orient": "left", "offset": -403, "values": [0, 0.2, 0.4, 0.6, 0.8, 1], "labels": false, "tickSize": 4, "domainWidth": 1.6, "domainColor": "#444", "tickColor": "#444", "title": null}}
  }},
 {"data": {"name": "bc"}, "transform": [{"filter": "datum.p == 'Participant 5'"}], "mark": {"type": "rule", "color": "#111", "strokeWidth": 0.8},
  "encoding": {
   "x": {"field": "d", "type": "quantitative", "scale": {"domain": [0, 417], "range": [409.3, 552], "nice": false, "zero": false}, "axis": null},
   "y": {"datum": -0.044, "scale": {"domain": [0, 1], "range": [716.3, 586.3], "nice": false}, "axis": null},
   "y2": {"datum": -0.017}}},
 {"data": {"name": "bc"}, "transform": [{"filter": "datum.p == 'Participant 7'"}], "mark": {"type": "line", "color": "#84ec2c", "strokeWidth": 1.3},
  "encoding": {
   "x": {"field": "d", "type": "quantitative", "scale": {"domain": [0, 400], "range": [59.3, 198.7], "nice": false, "zero": false},
         "axis": {"orient": "bottom", "offset": -107.3, "values": [0, 100, 200, 300, 400], "labelFontSize": 14, "labelPadding": 2, "tickSize": 3, "domainWidth": 1.2, "domainColor": "#222", "tickColor": "#222", "title": "Participant 7", "titleY": -111, "titleBaseline": "middle", "titleFontSize": 15, "titleFontStyle": "italic", "titleColor": "#111"}},
   "y": {"field": "v", "type": "quantitative", "scale": {"domain": [0, 1], "range": [886, 756], "nice": false},
         "axis": {"orient": "left", "offset": -52, "values": [0, 0.2, 0.4, 0.6, 0.8, 1], "labelExpr": "(abs(datum.value-1)<0.01 || abs(datum.value-0.6)<0.01 || abs(datum.value-0.2)<0.01) ? format(datum.value, '.1f') : ''", "labelFontSize": 14, "labelFontStyle": "italic", "labelPadding": 4, "tickSize": 4, "domainWidth": 1.6, "domainColor": "#444", "tickColor": "#444", "title": "Bray-Curtis dissimilarity", "titleFontSize": 14, "titleFontStyle": "italic", "titlePadding": 10}}
  }},
 {"data": {"name": "bc"}, "transform": [{"filter": "datum.p == 'Participant 7'"}], "mark": {"type": "rule", "color": "#111", "strokeWidth": 0.8},
  "encoding": {
   "x": {"field": "d", "type": "quantitative", "scale": {"domain": [0, 400], "range": [59.3, 198.7], "nice": false, "zero": false}, "axis": null},
   "y": {"datum": -0.044, "scale": {"domain": [0, 1], "range": [886, 756], "nice": false}, "axis": null},
   "y2": {"datum": -0.017}}},
 {"data": {"name": "bc"}, "transform": [{"filter": "datum.p == 'Participant 8'"}], "mark": {"type": "line", "color": "#9a48c6", "strokeWidth": 1.3},
  "encoding": {
   "x": {"field": "d", "type": "quantitative", "scale": {"domain": [0, 256], "range": [236.7, 341.7], "nice": false, "zero": false},
         "axis": {"orient": "bottom", "offset": -107.3, "values": [0, 100, 200], "labelFontSize": 14, "labelPadding": 2, "tickSize": 3, "domainWidth": 1.2, "domainColor": "#222", "tickColor": "#222", "title": "Participant 8", "titleY": -111, "titleBaseline": "middle", "titleFontSize": 15, "titleFontStyle": "italic", "titleColor": "#111"}},
   "y": {"field": "v", "type": "quantitative", "scale": {"domain": [0, 1], "range": [886, 756], "nice": false},
         "axis": {"orient": "left", "offset": -231, "values": [0, 0.2, 0.4, 0.6, 0.8, 1], "labels": false, "tickSize": 4, "domainWidth": 1.6, "domainColor": "#444", "tickColor": "#444", "title": null}}
  }},
 {"data": {"name": "bc"}, "transform": [{"filter": "datum.p == 'Participant 8'"}], "mark": {"type": "rule", "color": "#111", "strokeWidth": 0.8},
  "encoding": {
   "x": {"field": "d", "type": "quantitative", "scale": {"domain": [0, 256], "range": [236.7, 341.7], "nice": false, "zero": false}, "axis": null},
   "y": {"datum": -0.044, "scale": {"domain": [0, 1], "range": [886, 756], "nice": false}, "axis": null},
   "y2": {"datum": -0.017}}},
 {"data": {"name": "labels"}, "transform": [{"filter": "datum.t == 'C'"}], "mark": {"type": "text", "fontSize": 19, "align": "center", "baseline": "middle", "color": "#111"},
  "encoding": {"text": {"field": "t"},
   "x": {"datum": 396, "scale": {"domain": [0, 256], "range": [236.7, 341.7], "nice": false, "zero": false}, "axis": null},
   "y": {"datum": 0.85, "scale": {"domain": [0, 1], "range": [886, 756], "nice": false}, "axis": null}}},
 {"data": {"name": "bc"}, "transform": [{"window": [{"op": "percent_rank", "as": "j"}], "groupby": ["p"], "sort": [{"field": "d"}]}],
  "mark": {"type": "point", "shape": "circle", "filled": false, "size": 11, "strokeWidth": 0.7, "color": "#707070", "opacity": 1},
  "encoding": {
   "x": {"field": "p", "type": "nominal", "scale": {"type": "band", "domain": ["Participant 1", "Participant 2", "Participant 3", "Participant 4", "Participant 5", "Participant 6", "Participant 7", "Participant 8"], "range": [450, 674], "paddingOuter": 0.125, "paddingInner": 0},
         "axis": {"orient": "bottom", "offset": -60, "labelAngle": -45, "labelAlign": "right", "labelBaseline": "middle", "labelFontSize": 12, "labelFontStyle": "italic", "labelPadding": 3, "labelOffset": 3, "tickSize": 4, "domainWidth": 1.5, "domainColor": "#222", "tickColor": "#222", "title": null}},
   "xOffset": {"field": "j", "type": "quantitative", "scale": {"domain": [0, 1], "range": [3, 24]}},
   "y": {"field": "v", "type": "quantitative", "scale": {"domain": [0, 0.6], "range": [939, 789], "nice": false},
         "axis": {"orient": "left", "offset": -450, "values": [0, 0.2, 0.4, 0.6], "format": ".1f", "labelFontSize": 13, "labelFontStyle": "italic", "labelPadding": 6, "tickSize": 4, "domainWidth": 1.5, "domainColor": "#222", "tickColor": "#222", "title": "Bray-Curtis Dissimilarity", "titleFontSize": 13, "titleFontStyle": "italic", "titlePadding": 4}}
  }},
 {"data": {"name": "stats"}, "mark": {"type": "rule", "color": "#000", "strokeWidth": 1.8},
  "encoding": {
   "x": {"field": "p", "type": "nominal", "scale": {"type": "band", "domain": ["Participant 1", "Participant 2", "Participant 3", "Participant 4", "Participant 5", "Participant 6", "Participant 7", "Participant 8"], "range": [450, 674], "paddingOuter": 0.125, "paddingInner": 0}, "axis": null},
   "y": {"field": "lo", "type": "quantitative", "scale": {"domain": [0, 0.6], "range": [939, 789], "nice": false}, "axis": null},
   "y2": {"field": "hi"}}},
 {"data": {"name": "stats"}, "mark": {"type": "tick", "color": "#000", "size": 25, "thickness": 2},
  "encoding": {
   "x": {"field": "p", "type": "nominal", "scale": {"type": "band", "domain": ["Participant 1", "Participant 2", "Participant 3", "Participant 4", "Participant 5", "Participant 6", "Participant 7", "Participant 8"], "range": [450, 674], "paddingOuter": 0.125, "paddingInner": 0}, "axis": null},
   "y": {"field": "m", "type": "quantitative", "scale": {"domain": [0, 0.6], "range": [939, 789], "nice": false}, "axis": null}}},
 {"data": {"name": "stats"}, "mark": {"type": "tick", "color": "#000", "size": 13, "thickness": 1.6},
  "encoding": {
   "x": {"field": "p", "type": "nominal", "scale": {"type": "band", "domain": ["Participant 1", "Participant 2", "Participant 3", "Participant 4", "Participant 5", "Participant 6", "Participant 7", "Participant 8"], "range": [450, 674], "paddingOuter": 0.125, "paddingInner": 0}, "axis": null},
   "y": {"field": "lo", "type": "quantitative", "scale": {"domain": [0, 0.6], "range": [939, 789], "nice": false}, "axis": null}}},
 {"data": {"name": "stats"}, "mark": {"type": "tick", "color": "#000", "size": 13, "thickness": 1.6},
  "encoding": {
   "x": {"field": "p", "type": "nominal", "scale": {"type": "band", "domain": ["Participant 1", "Participant 2", "Participant 3", "Participant 4", "Participant 5", "Participant 6", "Participant 7", "Participant 8"], "range": [450, 674], "paddingOuter": 0.125, "paddingInner": 0}, "axis": null},
   "y": {"field": "hi", "type": "quantitative", "scale": {"domain": [0, 0.6], "range": [939, 789], "nice": false}, "axis": null}}},
 {"data": {"name": "stats"}, "mark": {"type": "text", "fontSize": 15, "baseline": "alphabetic", "align": "center", "color": "#111"},
  "encoding": {
   "x": {"field": "p", "type": "nominal", "scale": {"type": "band", "domain": ["Participant 1", "Participant 2", "Participant 3", "Participant 4", "Participant 5", "Participant 6", "Participant 7", "Participant 8"], "range": [450, 674], "paddingOuter": 0.125, "paddingInner": 0}, "axis": null},
   "y": {"datum": 0.6, "scale": {"domain": [0, 0.6], "range": [939, 789], "nice": false}, "axis": null},
   "text": {"field": "g"}}}
]
}
